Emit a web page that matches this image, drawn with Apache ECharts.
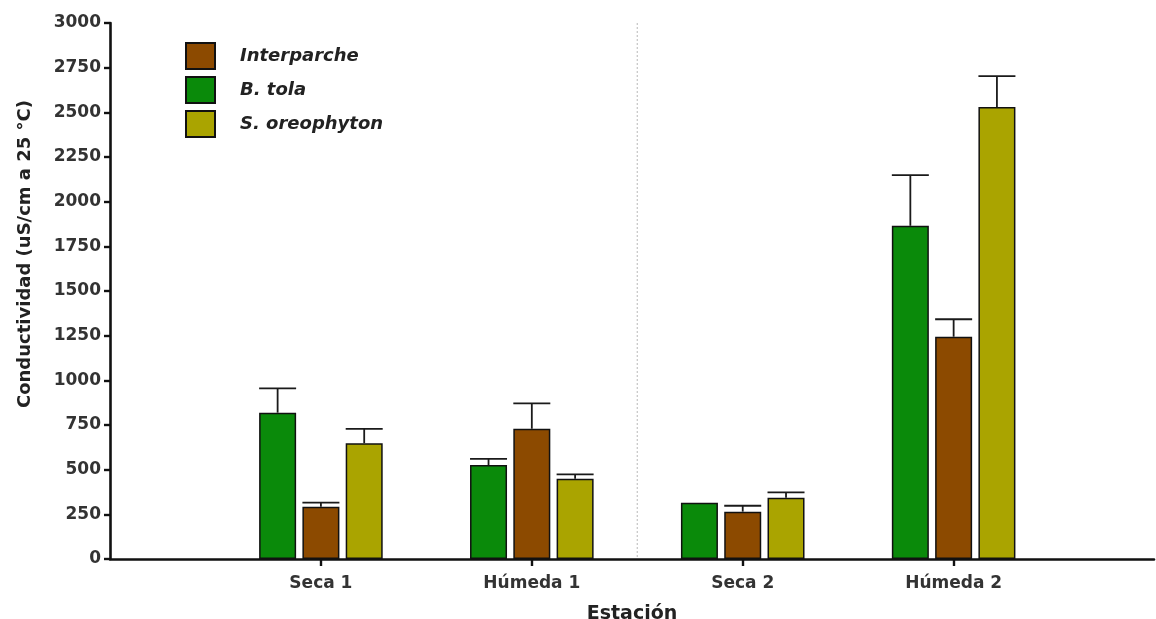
<!DOCTYPE html>
<html>
<head>
<meta charset="utf-8">
<title>Conductividad por estación</title>
<script src="https://cdn.jsdelivr.net/npm/echarts@6/dist/echarts.min.js"></script>
<style>
  html, body { margin: 0; padding: 0; background: #fff; }
  #chart { width: 1156px; height: 619px; }
</style>
</head>
<body>
<div id="chart"></div>
<script>
// Estaciones de muestreo (eje X)
const categories = ['Seca 1', 'Húmeda 1', 'Seca 2', 'Húmeda 2'];

// Conductividad media (uS/cm a 25 °C) y error estándar por cobertura
const btolaMean = [819, 526, 315, 1865];
const btolaErr  = [136, 34, 0, 284];
const interMean = [293, 729, 265, 1244];
const interErr  = [22, 142, 33, 98];
const oreoMean  = [648, 449, 343, 2530];
const oreoErr   = [80, 25, 30, 173];

// Orden de la leyenda
const legendOrder = ['Interparche', 'B. tola', 'S. oreophyton'];

// Separación entre las dos campañas (entre Húmeda 1 y Seca 2)
const dividerAt = [2.5];

const FONT = 'DejaVu Sans';
const BAR_W = 37;
const BAR_GAP = 0.17;

const COLORS = {
  'B. tola': '#0a8a0a',
  'Interparche': '#8c4a00',
  'S. oreophyton': '#aaa400'
};

// Each station sits at integer positions 1..4 on a value axis
const pos = categories.map((c, i) => i + 1);

function barSeries(name, means) {
  return {
    name: name,
    type: 'bar',
    barWidth: BAR_W,
    barGap: (BAR_GAP * 100) + '%',
    itemStyle: { color: COLORS[name], borderColor: '#111', borderWidth: 1.5 },
    data: means.map((v, i) => [pos[i], v]),
    z: 2
  };
}

function errSeries(name, means, errs, slot) {
  const offset = (slot - 1) * BAR_W * (1 + BAR_GAP);
  return {
    name: name,
    type: 'custom',
    z: 3,
    encode: { x: 0, y: 1 },
    data: means.map((v, i) => [pos[i], v, errs[i]]),
    renderItem: function (params, api) {
      const x = api.value(0), m = api.value(1), e = api.value(2);
      if (!e) return null;
      const base = api.coord([x, m]);
      const top = api.coord([x, m + e]);
      const cx = base[0] + offset;
      const st = { stroke: '#1a1a1a', lineWidth: 1.8 };
      return {
        type: 'group',
        children: [
          { type: 'line', shape: { x1: cx, y1: base[1], x2: cx, y2: top[1] }, style: st },
          { type: 'line', shape: { x1: cx - BAR_W / 2, y1: top[1], x2: cx + BAR_W / 2, y2: top[1] }, style: st }
        ]
      };
    }
  };
}

// Thin dotted divider spanning the full plot height
const dividerSeries = {
  name: 'divider',
  type: 'custom',
  z: 1,
  silent: true,
  encode: { x: 0 },
  data: dividerAt.map(v => [v]),
  renderItem: function (params, api) {
    const cs = params.coordSys;
    const p = api.coord([api.value(0), 0]);
    return {
      type: 'line',
      shape: { x1: p[0], y1: cs.y, x2: p[0], y2: cs.y + cs.height },
      style: { stroke: '#c4c4c4', lineWidth: 1.2, lineDash: [2, 2] }
    };
  }
};

const chart = echarts.init(document.getElementById('chart'), null, { renderer: 'canvas' });

chart.setOption({
  animation: false,
  backgroundColor: '#ffffff',
  textStyle: { fontFamily: FONT },
  grid: { left: 110, right: 2, top: 23, bottom: 60, containLabel: false, outerBoundsMode: 'none' },
  legend: {
    data: legendOrder,
    orient: 'vertical',
    left: 180,
    top: 37,
    itemWidth: 29,
    itemHeight: 26,
    itemGap: 6,
    icon: 'rect',
    textStyle: {
      fontFamily: FONT, fontSize: 18, fontWeight: 'bold', fontStyle: 'italic',
      color: '#222', padding: [0, 0, 0, 20]
    }
  },
  xAxis: {
    type: 'value',
    min: 0,
    max: 4.95,
    interval: 1,
    name: 'Estación',
    nameLocation: 'middle',
    nameGap: 46,
    nameTextStyle: { fontFamily: FONT, fontSize: 19, fontWeight: 'bold', color: '#222' },
    axisLine: { show: true, onZero: false, lineStyle: { color: '#111', width: 2.6 } },
    axisTick: { show: true, customValues: pos, length: 7, lineStyle: { color: '#111', width: 2.4 } },
    axisLabel: {
      customValues: pos,
      margin: 16,
      fontFamily: FONT, fontSize: 17, fontWeight: 'bold', color: '#333',
      formatter: function (v) { return categories[Math.round(v) - 1] || ''; }
    },
    splitLine: { show: false }
  },
  yAxis: {
    type: 'value',
    min: 0,
    max: 3000,
    interval: 250,
    name: 'Conductividad (uS/cm a 25 °C)',
    nameLocation: 'middle',
    nameGap: 76,
    nameRotate: 90,
    nameTextStyle: {
      fontFamily: FONT, fontSize: 18, fontWeight: 'bold', color: '#222',
      padding: [0, 0, 0, 74]
    },
    axisLine: { show: true, lineStyle: { color: '#111', width: 2.6 } },
    axisTick: { show: true, length: 6, lineStyle: { color: '#111', width: 2.4 } },
    axisLabel: {
      margin: 9, fontFamily: FONT, fontSize: 17, fontWeight: 'bold', color: '#333',
      formatter: function (v) { return String(v); }
    },
    splitLine: { show: false }
  },
  series: [
    dividerSeries,
    barSeries('B. tola', btolaMean),
    barSeries('Interparche', interMean),
    barSeries('S. oreophyton', oreoMean),
    errSeries('B. tola', btolaMean, btolaErr, 0),
    errSeries('Interparche', interMean, interErr, 1),
    errSeries('S. oreophyton', oreoMean, oreoErr, 2)
  ]
});
</script>
</body>
</html>
